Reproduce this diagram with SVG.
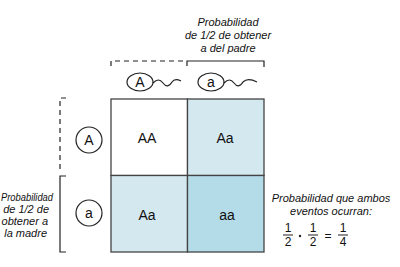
<svg xmlns="http://www.w3.org/2000/svg" width="400" height="267" viewBox="0 0 400 267">
<style>
.lbl{font-family:"Liberation Sans",Arial,sans-serif;font-style:italic;font-size:11px;fill:#111}
.cell{font-family:"Liberation Sans",Arial,sans-serif;font-size:14px;fill:#111;text-anchor:middle}
.al{font-family:"Liberation Sans",Arial,sans-serif;font-size:14px;fill:#111;text-anchor:middle}
.ln{stroke:#222;stroke-width:1.2;fill:none}
.dash{stroke:#222;stroke-width:1.2;fill:none;stroke-dasharray:5 4}
.grid{stroke:#444;stroke-width:1.3}
</style>
<rect width="400" height="267" fill="#fff"/>
<g id="punnett">
<rect x="111" y="99" width="76.5" height="76.5" fill="#ffffff" class="grid"/>
<rect x="187.5" y="99" width="76.5" height="76.5" fill="#d4e8f0" class="grid"/>
<rect x="111" y="175.5" width="76.5" height="76.5" fill="#d4e8f0" class="grid"/>
<rect x="187.5" y="175.5" width="76.5" height="76.5" fill="#b4dbe8" class="grid"/>
<text class="cell" x="147" y="143">AA</text>
<text class="cell" x="225" y="143">Aa</text>
<text class="cell" x="147" y="220">Aa</text>
<text class="cell" x="227" y="220">aa</text>
</g>
<g id="father-alleles">
<ellipse cx="140" cy="82" rx="13" ry="9" class="ln"/>
<text class="al" x="140" y="87">A</text>
<path d="M153,83 c4,-4 7,-4 10,0 c3,4 6,4 9,-1 c2,-3 5,-3 9,-1" class="ln"/>
<ellipse cx="211" cy="82" rx="13" ry="9" class="ln"/>
<text class="al" x="211" y="87">a</text>
<path d="M224,83 c4,-4 7,-4 10,0 c3,4 6,4 9,-1 c3,-3 8,-3 14,0" class="ln"/>
</g>
<g id="mother-alleles">
<circle cx="89" cy="140" r="13" class="ln"/>
<text class="al" x="89" y="145">A</text>
<circle cx="89" cy="213" r="13" class="ln"/>
<text class="al" x="89" y="218">a</text>
</g>
<g id="connectors">
<path d="M111,66 V61 H187" class="dash"/>
<path d="M187,66 V61 H264 V67" class="ln"/>
<path d="M66,98 H60 V173" class="dash"/>
<path d="M66,176 H60 V252 H66" class="ln"/>
</g>
<g id="father-label">
<text class="lbl" text-anchor="middle" x="228" y="26">Probabilidad</text>
<text class="lbl" text-anchor="middle" x="228" y="39">de 1/2  de obtener</text>
<text class="lbl" text-anchor="middle" x="228" y="52">a del padre</text>
</g>
<g id="mother-label">
<text class="lbl" x="1" y="201" textLength="52" lengthAdjust="spacingAndGlyphs">Probabilidad</text>
<text class="lbl" text-anchor="end" x="49" y="213">de 1/2  de</text>
<text class="lbl" text-anchor="end" x="48" y="225">obtener  a</text>
<text class="lbl" text-anchor="end" x="47" y="237">la madre</text>
</g>
<g id="result-label">
<text class="lbl" text-anchor="middle" x="331" y="202">Probabilidad que ambos</text>
<text class="lbl" text-anchor="middle" x="331" y="215">eventos ocurran:</text>
<g class="cell" style="font-size:12px">
<text x="288" y="232">1</text>
<text x="288" y="246">2</text>
<text x="313" y="232">1</text>
<text x="313" y="246">2</text>
<text x="343" y="232">1</text>
<text x="343" y="246">4</text>
<text x="328" y="240">=</text>
</g>
<path d="M283,235 H293 M308,235 H318 M338,235 H348" class="ln"/>
<circle cx="300" cy="236" r="1.2" fill="#222"/>
</g>
</svg>
